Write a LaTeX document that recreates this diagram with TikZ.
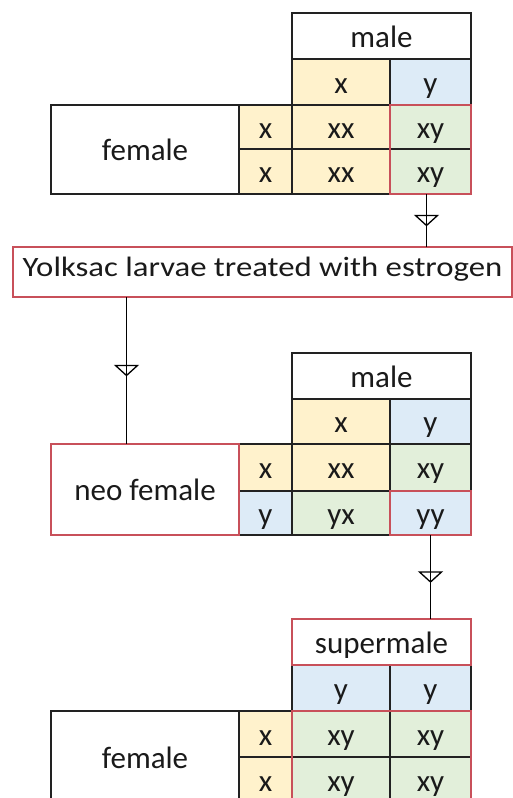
\documentclass[tikz,border=0pt]{standalone}
\usepackage{fontspec}
\setmainfont{Carlito}
\newfontfamily\bannerfont{Carlito}[FakeStretch=1.17]
\usetikzlibrary{decorations.markings}
\definecolor{gridline}{HTML}{222222}
\definecolor{redline}{HTML}{C8505A}
\definecolor{xfill}{HTML}{FFF2CC}
\definecolor{yfill}{HTML}{DDEBF7}
\definecolor{xyfill}{HTML}{E2EFDA}
\definecolor{ink}{HTML}{1A1A1A}
\tikzset{
  cell/.style={draw=gridline, line width=1.5pt, inner sep=0pt, outer sep=0pt,
    font=\fontsize{31}{37}\selectfont, text=ink, text height=30pt, text depth=8pt},
  redbox/.style={draw=redline, line width=1.5pt},
  link/.style={draw=black, line width=1.4pt, postaction=decorate,
    decoration={markings, mark=at position 0.5 with
      {\draw[line width=1.3pt] (-5pt,-11pt) -- (5pt,0pt) -- (-5pt,11pt) -- cycle;}}}
}
% \gcell{name}{x1}{y1}{x2}{y2}{fill}{text}
\newcommand\gcell[7]{%
  \node[cell, fill=#6, minimum width={(#4-#2)*1pt}, minimum height={(#5-#3)*1pt}]
    (#1) at ({(#2+#4)/2},{(#3+#5)/2}) {#7};}

\begin{document}
\begin{tikzpicture}[x=1pt, y=-1pt]
\useasboundingbox (0,0) rectangle (513,798);

% ---- female x male ----
\gcell{t1h}{292}{13}{471}{59}{white}{male}
\gcell{t1m1}{292}{59}{390}{105}{xfill}{x}
\gcell{t1m2}{390}{59}{471}{105}{yfill}{y}
\gcell{t1f}{51}{105}{239}{194}{white}{female}
\gcell{t1a1}{239}{105}{292}{149}{xfill}{x}
\gcell{t1a2}{239}{149}{292}{194}{xfill}{x}
\gcell{t1c11}{292}{105}{390}{149}{xfill}{xx}
\gcell{t1c12}{390}{105}{471}{149}{xyfill}{xy}
\gcell{t1c21}{292}{149}{390}{194}{xfill}{xx}
\gcell{t1c22}{390}{149}{471}{194}{xyfill}{xy}
\draw[redbox] (t1c12.north west) rectangle (t1c22.south east);

% ---- treatment ----
\node[cell, draw=redline, fill=white, minimum width=499pt, minimum height=50pt,
  font=\bannerfont\fontsize{28}{34}\selectfont, text height=20pt, text depth=12pt]
  (yolk) at (262.5,272) {Yolksac larvae treated with estrogen};

% ---- neo female x male ----
\gcell{t2h}{292}{353}{471}{399}{white}{male}
\gcell{t2m1}{292}{399}{390}{444}{xfill}{x}
\gcell{t2m2}{390}{399}{471}{444}{yfill}{y}
\gcell{t2f}{51}{444}{239}{535}{white}{neo female}
\gcell{t2a1}{239}{444}{292}{491}{xfill}{x}
\gcell{t2a2}{239}{491}{292}{535}{yfill}{y}
\gcell{t2c11}{292}{444}{390}{491}{xfill}{xx}
\gcell{t2c12}{390}{444}{471}{491}{xyfill}{xy}
\gcell{t2c21}{292}{491}{390}{535}{xyfill}{yx}
\gcell{t2c22}{390}{491}{471}{535}{yfill}{yy}
\draw[redbox] (t2f.north west) rectangle (t2f.south east);
\draw[redbox] (t2c22.north west) rectangle (t2c22.south east);

% ---- female x supermale ----
\gcell{t3h}{292}{619}{471}{665}{white}{supermale}
\gcell{t3m1}{292}{665}{390}{711}{yfill}{y}
\gcell{t3m2}{390}{665}{471}{711}{yfill}{y}
\gcell{t3f}{51}{711}{239}{803}{white}{female}
\gcell{t3a1}{239}{711}{292}{757}{xfill}{x}
\gcell{t3a2}{239}{757}{292}{803}{xfill}{x}
\gcell{t3c11}{292}{711}{390}{757}{xyfill}{xy}
\gcell{t3c12}{390}{711}{471}{757}{xyfill}{xy}
\gcell{t3c21}{292}{757}{390}{803}{xyfill}{xy}
\gcell{t3c22}{390}{757}{471}{803}{xyfill}{xy}
\draw[redbox] (t3h.north west) rectangle (t3h.south east);
\draw[redbox] (t3c11.north west) rectangle (t3c22.south east);

% ---- connectors ----
\draw[link] ([xshift=-4pt]t1c22.south) -- ([xshift=-4pt]t1c22.south |- yolk.north);
\draw[link] ([xshift=-18.5pt]t2f.north |- yolk.south) -- ([xshift=-18.5pt]t2f.north);
\draw[link] (t2c22.south) -- (t2c22.south |- t3h.north);
\end{tikzpicture}
\end{document}
